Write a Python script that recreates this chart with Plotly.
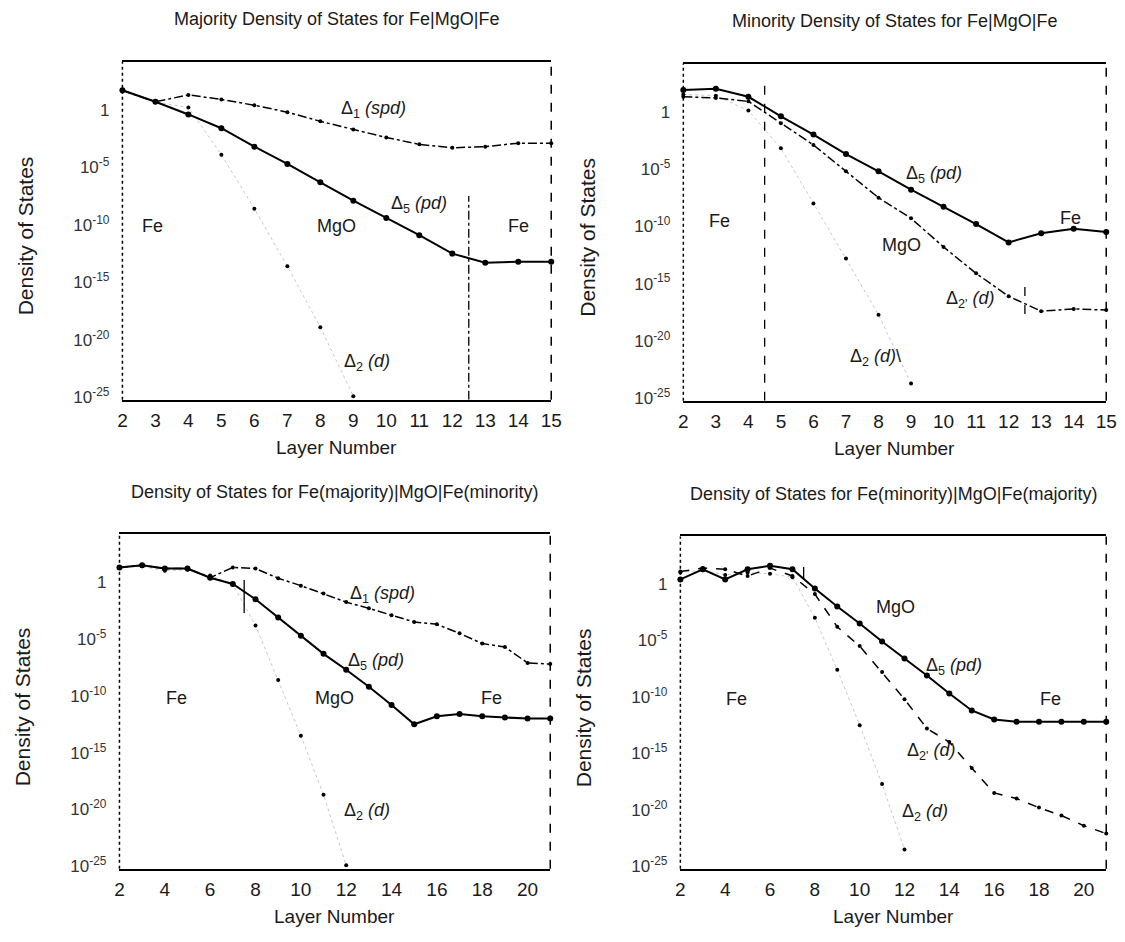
import plotly.graph_objects as go

# ---------------- DATA (log10 of density of states) ----------------
# Panel 1: Majority Fe|MgO|Fe
p1_layers = [2, 3, 4, 5, 6, 7, 8, 9, 10, 11, 12, 13, 14, 15]
p1_d1_spd = [1.7, 0.7, 1.3, 0.9, 0.4, -0.2, -1.0, -1.7, -2.4, -3.0, -3.3, -3.2, -2.9, -2.9]
p1_d5_pd = [1.7, 0.7, -0.4, -1.6, -3.2, -4.7, -6.3, -7.9, -9.4, -10.9, -12.5, -13.3, -13.2, -13.2]
p1_d2_layers = [2, 3, 4, 5, 6, 7, 8, 9]
p1_d2_d = [1.6, 0.7, 0.2, -3.9, -8.6, -13.6, -18.9, -24.9]

# Panel 2: Minority Fe|MgO|Fe
p2_layers = [2, 3, 4, 5, 6, 7, 8, 9, 10, 11, 12, 13, 14, 15]
p2_d5_pd = [1.9, 2.0, 1.3, -0.4, -2.0, -3.7, -5.2, -6.8, -8.3, -9.8, -11.4, -10.6, -10.2, -10.5]
p2_d2p_d = [1.3, 1.2, 0.9, -1.0, -2.9, -5.2, -7.5, -9.3, -11.8, -14.1, -16.1, -17.4, -17.2, -17.3]
p2_d2_layers = [2, 3, 4, 5, 6, 7, 8, 9]
p2_d2_d = [1.5, 1.4, 0.1, -3.2, -8.0, -12.8, -17.7, -23.7]

# Panel 3: Fe(majority)|MgO|Fe(minority)
p3_layers = [2, 3, 4, 5, 6, 7, 8, 9, 10, 11, 12, 13, 14, 15, 16, 17, 18, 19, 20, 21]
p3_d1_spd = [1.3, 1.5, 1.2, 1.2, 0.4, 1.3, 1.2, 0.35, -0.3, -1.0, -1.75, -2.3, -2.9, -3.5,
             -3.7, -4.5, -5.4, -5.7, -7.1, -7.2]
p3_d5_pd = [1.3, 1.5, 1.2, 1.2, 0.4, -0.15, -1.5, -3.1, -4.7, -6.3, -7.7, -9.2, -10.8, -12.5,
            -11.8, -11.6, -11.8, -11.9, -12.0, -12.0]
p3_d2_layers = [2, 3, 4, 5, 6, 7, 8, 9, 10, 11, 12]
p3_d2_d = [1.3, 1.4, 1.0, 1.1, 0.6, -0.2, -3.8, -8.6, -13.5, -18.7, -24.9]

# Panel 4: Fe(minority)|MgO|Fe(majority)
p4_layers = [2, 3, 4, 5, 6, 7, 8, 9, 10, 11, 12, 13, 14, 15, 16, 17, 18, 19, 20, 21]
p4_d5_pd = [0.4, 1.3, 0.4, 1.3, 1.6, 1.3, -0.4, -2.0, -3.5, -5.1, -6.6, -8.1, -9.7, -11.2,
            -12.0, -12.2, -12.2, -12.2, -12.2, -12.2]
p4_d2p_d = [1.1, 1.4, 1.3, 0.7, 1.4, 0.7, -0.9, -3.8, -5.5, -7.8, -10.2, -12.8, -14.0, -16.3,
            -18.5, -19.0, -19.8, -20.5, -21.4, -22.1]
p4_d2_layers = [2, 3, 4, 5, 6, 7, 8, 9, 10, 11, 12]
p4_d2_d = [1.0, 1.2, 0.8, 1.0, 0.9, 0.6, -3.0, -7.6, -12.5, -17.7, -23.5]

# Tick labels
y_tickexp = [-25, -20, -15, -10, -5, 0]
y_ticktext = ["10<sup>-25</sup>", "10<sup>-20</sup>", "10<sup>-15</sup>", "10<sup>-10</sup>",
              "10<sup>-5</sup>", "1"]
x_ticks_short = list(range(2, 16))
x_ticks_long = [2, 4, 6, 8, 10, 12, 14, 16, 18, 20]

titles = ["Majority Density of States for Fe|MgO|Fe",
          "Minority Density of States for Fe|MgO|Fe",
          "Density of States for Fe(majority)|MgO|Fe(minority)",
          "Density of States for Fe(minority)|MgO|Fe(majority)"]

# ---------------- LAYOUT GEOMETRY ----------------
W, H = 1125, 942
FONT = "Liberation Sans, Arial, sans-serif"
TXT = "#1a1a1a"
# pixel boxes: (left, right, top, bottom)
boxes = [(111, 546, 54, 395), (680, 1109, 56, 396), (108, 545, 531, 868), (677, 1109, 533, 868)]
xranges = [[2, 15], [2, 15], [2, 21], [2, 21]]
yrange = [-25.2, 4.2]


def pw(v):
    return 10 ** v


fig = go.Figure()


def axsuffix(i):
    return "" if i == 0 else str(i + 1)


def add_line(i, xs, ys, dash, width=1.6, msize=5):
    ax = axsuffix(i)
    fig.add_trace(go.Scatter(
        x=xs, y=[pw(v) for v in ys], mode="lines+markers",
        line=dict(color="black", width=width, dash=dash),
        marker=dict(color="black", size=msize),
        cliponaxis=False, showlegend=False,
        xaxis="x" + ax, yaxis="y" + ax))


def add_d2(i, xs, ys):
    ax = axsuffix(i)
    fig.add_trace(go.Scatter(
        x=xs, y=[pw(v) for v in ys], mode="lines+markers",
        line=dict(color="rgba(0,0,0,0.22)", width=1, dash="dot"),
        marker=dict(color="black", size=4),
        cliponaxis=False, showlegend=False,
        xaxis="x" + ax, yaxis="y" + ax))


# Panel 1
add_line(0, p1_layers, p1_d1_spd, "dashdot", 1.5, 4)
add_line(0, p1_layers, p1_d5_pd, "solid", 2, 6)
add_d2(0, p1_d2_layers, p1_d2_d)
# Panel 2
add_line(1, p2_layers, p2_d2p_d, "dashdot", 1.5, 4)
add_line(1, p2_layers, p2_d5_pd, "solid", 2, 6)
add_d2(1, p2_d2_layers, p2_d2_d)
# Panel 3
add_line(2, p3_layers, p3_d1_spd, "dashdot", 1.5, 4)
add_line(2, p3_layers, p3_d5_pd, "solid", 2, 6)
add_d2(2, p3_d2_layers, p3_d2_d)
# Panel 4
add_line(3, p4_layers, p4_d2p_d, "dash", 1.5, 4)
add_line(3, p4_layers, p4_d5_pd, "solid", 2, 6)
add_d2(3, p4_d2_layers, p4_d2_d)

layout = dict(width=W, height=H, margin=dict(l=0, r=0, t=0, b=0),
              paper_bgcolor="white", plot_bgcolor="white",
              font=dict(family=FONT, size=18, color=TXT), showlegend=False)

shapes = []
annotations = []
for i, (l, r, t, b) in enumerate(boxes):
    ax = axsuffix(i)
    xt = x_ticks_short if i < 2 else x_ticks_long
    layout["xaxis" + ax] = dict(domain=[l / W, r / W], range=xranges[i], anchor="y" + ax,
                                tickvals=xt, ticktext=[str(v) for v in xt],
                                showline=True, mirror=True, linecolor="black", linewidth=2,
                                showgrid=False, zeroline=False, ticks="", ticklabelstandoff=3,
                                tickfont=dict(size=19, color=TXT))
    layout["yaxis" + ax] = dict(domain=[1 - b / H, 1 - t / H], type="log", range=yrange,
                                anchor="x" + ax, tickvals=[pw(v) for v in y_tickexp],
                                ticktext=y_ticktext, showline=False, showgrid=False,
                                zeroline=False, ticks="", ticklabelstandoff=12,
                                tickfont=dict(size=17, color="#333"))
    # left dotted and right dashed frame lines
    shapes.append(dict(type="line", xref="x" + ax + " domain", yref="y" + ax + " domain",
                       x0=0, x1=0, y0=0, y1=1, line=dict(color="black", width=1.5, dash="dot")))
    shapes.append(dict(type="line", xref="x" + ax + " domain", yref="y" + ax + " domain",
                       x0=1, x1=1, y0=0, y1=1, line=dict(color="black", width=1.5, dash="dash")))
    cx = (l + r) / 2
    annotations.append(dict(text=titles[i], x=cx / W, y=1 - (t - 43) / H, xref="paper",
                            yref="paper", showarrow=False, xanchor="center", yanchor="middle",
                            font=dict(size=18, color=TXT)))
    annotations.append(dict(text="Layer Number", x=cx / W, y=1 - (b + 48) / H, xref="paper",
                            yref="paper", showarrow=False, xanchor="center", yanchor="middle",
                            font=dict(size=19, color=TXT)))
    annotations.append(dict(text="Density of States", x=(l - 98) / W, y=1 - ((t + b) / 2 + 5) / H,
                            xref="paper", yref="paper", showarrow=False, textangle=-90,
                            xanchor="center", yanchor="middle", font=dict(size=21, color=TXT)))

# interface marker lines: (panel, layer, from exp, to exp, dash)
interfaces = [(0, 12.5, -25.2, -7.5, "dashdot"), (1, 4.5, -25.2, 3.0, "dash"),
              (1, 12.5, -15.3, -18.3, "dash"), (2, 7.5, 0.2, -2.7, "solid"),
              (3, 7.5, 1.5, 0.4, "solid")]
for (i, xv, y0, y1, dash) in interfaces:
    ax = axsuffix(i)
    shapes.append(dict(type="line", xref="x" + ax, yref="y" + ax, x0=xv, x1=xv,
                       y0=pw(y0), y1=pw(y1), line=dict(color="black", width=1.3, dash=dash)))

# In-plot labels: (panel, layer, exp, text)
labels = [
    (0, 9.6, 0.0, "Δ<sub>1</sub> <i>(spd)</i>"),
    (0, 11.0, -8.2, "Δ<sub>5</sub> <i>(pd)</i>"),
    (0, 2.9, -10.1, "Fe"), (0, 8.5, -10.1, "MgO"), (0, 14.0, -10.1, "Fe"),
    (0, 9.4, -22.0, "Δ<sub>2</sub> <i>(d)</i>"),
    (1, 9.7, -5.5, "Δ<sub>5</sub> <i>(pd)</i>"),
    (1, 3.1, -9.5, "Fe"), (1, 8.7, -11.6, "MgO"), (1, 13.9, -9.3, "Fe"),
    (1, 10.8, -16.4, "Δ<sub>2'</sub> <i>(d)</i>"),
    (1, 7.9, -21.4, "Δ<sub>2</sub> <i>(d)</i>\\"),
    (2, 13.6, -1.1, "Δ<sub>1</sub> <i>(spd)</i>"),
    (2, 13.3, -7.0, "Δ<sub>5</sub> <i>(pd)</i>"),
    (2, 4.5, -10.2, "Fe"), (2, 11.5, -10.2, "MgO"), (2, 18.4, -10.2, "Fe"),
    (2, 12.9, -20.2, "Δ<sub>2</sub> <i>(d)</i>"),
    (3, 11.6, -2.0, "MgO"),
    (3, 14.2, -7.3, "Δ<sub>5</sub> <i>(pd)</i>"),
    (3, 4.5, -10.2, "Fe"), (3, 18.5, -10.2, "Fe"),
    (3, 13.2, -14.8, "Δ<sub>2'</sub> <i>(d)</i>"),
    (3, 12.9, -20.2, "Δ<sub>2</sub> <i>(d)</i>"),
]
for (i, lx, ly, txt) in labels:
    ax = axsuffix(i)
    annotations.append(dict(text=txt, x=lx, y=ly, xref="x" + ax, yref="y" + ax,
                            showarrow=False, xanchor="center", yanchor="middle",
                            font=dict(size=18, color=TXT)))

layout["shapes"] = shapes
layout["annotations"] = annotations
fig.update_layout(**layout)
fig.write_html("out.html")
